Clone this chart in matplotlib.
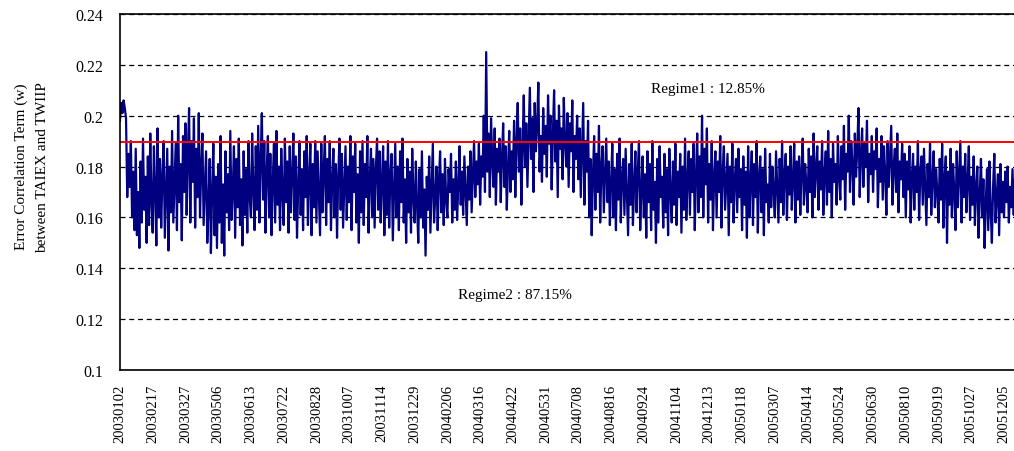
import numpy as np
import matplotlib
matplotlib.use("Agg")
import matplotlib.pyplot as plt

plt.rcParams['font.family'] = ['Liberation Serif', 'DejaVu Serif']

# tick labels (one every 27 trading days)
dates = ['20030102', '20030217', '20030327', '20030506', '20030613', '20030722',
         '20030828', '20031007', '20031114', '20031229', '20040206', '20040316',
         '20040422', '20040531', '20040708', '20040816', '20040924', '20041104',
         '20041213', '20050118', '20050307', '20050414', '20050524', '20050630',
         '20050810', '20050919', '20051027', '20051205']

# error correlation term, in thousandths
w_2003 = [198, 205, 201, 206, 203, 199, 168, 185, 172, 190, 160, 178, 155, 187, 153, 170, 148, 182, 158, 191, 163, 176, 150, 184, 157, 193, 166,
          154, 188, 171, 149, 195, 160, 183, 156, 176, 190, 152, 169, 187, 147, 180, 162, 194, 158, 173, 189, 155, 200, 166, 181, 151, 192, 170,
          197, 161, 185, 203, 158, 190, 174, 199, 156, 187, 168, 201, 160, 179, 193, 157, 172, 186, 150, 165, 183, 146, 170, 189, 153, 176, 148,
          181, 158, 192, 150, 173, 145, 186, 162, 177, 155, 194, 159, 170, 188, 152, 183, 164, 191, 157, 175, 149, 186, 161, 179, 154, 190, 168,
          160, 193, 171, 155, 188, 163, 196, 158, 182, 201, 167, 190, 154, 178, 192, 160, 185, 153, 174, 189, 158, 194, 165, 180, 155, 187, 170,
          157, 191, 166, 182, 154, 188, 162, 176, 193, 159, 184, 152, 172, 190, 161, 179, 155, 186, 168, 192, 157, 175, 189, 153, 181, 164, 190,
          158, 186, 170, 153, 189, 162, 178, 192, 157, 183, 166, 190, 155, 174, 187, 160, 181, 152, 176, 191, 163, 185, 156, 172, 188, 159, 180,
          166, 192, 155, 184, 170, 189, 158, 177, 150, 186, 162, 190, 157, 181, 168, 192, 154, 175, 187, 160, 183, 156, 179, 191, 163, 186, 158,
          174, 188, 153, 182, 161, 190, 156, 177, 185, 151, 170, 189, 160, 180, 155, 186, 166, 191, 158, 175, 150, 183, 162, 178, 154, 187, 168]
w_2004 = [158, 182, 165, 150, 179, 160, 186, 156, 171, 145, 176, 163, 184, 154, 172, 189, 158, 168, 180, 155, 174, 186, 162, 177, 157, 183, 167,
          160, 179, 170, 185, 158, 175, 163, 182, 159, 172, 188, 165, 178, 161, 184, 170, 157, 180, 167, 186, 162, 176, 190, 168, 182, 173, 189,
          165, 184, 176, 200, 170, 225, 178, 193, 168, 199, 182, 172, 195, 165, 187, 178, 191, 166, 183, 197, 172, 188, 163, 180, 194, 170, 186,
          175, 198, 168, 190, 205, 178, 195, 165, 188, 208, 180, 197, 172, 191, 211, 183, 199, 170, 205, 186, 196, 213, 178, 192, 174, 203, 185,
          196, 176, 208, 189, 200, 171, 193, 210, 182, 198, 168, 204, 187, 195, 175, 207, 190, 180, 201, 172, 197, 186, 206, 170, 192, 183, 200,
          175, 195, 168, 186, 205, 165, 190, 178, 198, 160, 183, 153, 176, 192, 163, 185, 170, 196, 158, 180, 188, 162, 177, 191, 166, 182, 157,
          174, 189, 160, 179, 155, 185, 167, 191, 158, 176, 183, 161, 187, 170, 153, 181, 165, 189, 157, 173, 186, 162, 178, 190, 155, 171, 184,
          160, 177, 152, 186, 166, 181, 155, 190, 163, 174, 150, 183, 158, 188, 168, 176, 156, 185, 162, 179, 153, 187, 170, 158, 182, 165, 189,
          157, 178, 168, 185, 154, 180, 163, 191, 159, 175, 186, 161, 183, 170, 189, 155, 176, 193, 162, 184, 168, 200, 160, 187, 173, 195, 158,
          181, 167, 190, 155, 176, 186, 160, 182, 170, 192, 156, 178, 188, 163, 174, 185, 153, 180, 166, 189, 158, 175, 183, 162, 187, 168, 179]
w_2005 = [155, 184, 165, 178, 152, 188, 160, 174, 186, 157, 181, 168, 190, 154, 176, 184, 162, 179, 153, 187, 166, 173, 158, 185, 164, 180, 171,
          160, 186, 172, 158, 183, 166, 190, 161, 177, 185, 159, 180, 169, 188, 163, 175, 189, 158, 182, 167, 184, 161, 178, 191, 165, 181, 173,
          162, 187, 170, 184, 160, 193, 168, 179, 188, 163, 182, 171, 190, 161, 177, 186, 165, 194, 170, 183, 160, 189, 174, 181, 165, 192, 176,
          167, 188, 175, 196, 163, 185, 178, 200, 170, 190, 181, 165, 193, 176, 187, 203, 168, 184, 195, 172, 189, 180, 198, 166, 185, 177, 192,
          170, 186, 179, 195, 164, 183, 174, 192, 167, 188, 178, 161, 190, 172, 184, 196, 165, 180, 187, 170, 193, 162, 182, 175, 189, 168, 185,
          160, 182, 171, 188, 158, 176, 185, 163, 180, 170, 190, 159, 178, 184, 165, 187, 172, 157, 181, 168, 189, 161, 175, 186, 164, 179, 170,
          158, 183, 167, 189, 156, 175, 184, 150, 178, 165, 187, 160, 181, 170, 155, 186, 164, 177, 190, 158, 180, 168, 185, 162, 174, 188, 159,
          176, 165, 184, 157, 172, 180, 152, 169, 183, 160, 175, 148, 166, 179, 155, 182, 163, 150, 172, 185, 158, 168, 177, 153, 181, 162, 174,
          160, 178, 166, 180, 158, 172, 164, 179, 161, 175, 168, 181]

threshold = 0.1895
regime1 = 'Regime1 : 12.85%'
regime2 = 'Regime2 : 87.15%'

w = np.array(w_2003 + w_2004 + w_2005) / 1000.0
x = np.arange(len(w))
step = 27

fig = plt.figure(figsize=(10.14, 4.52), dpi=100)
ax = fig.add_axes([0.1183, 0.179, 0.885, 0.788])

ax.plot(x, w, color='#000080', lw=1.6)
ax.axhline(threshold, color='#ff0000', lw=1.4)

ax.set_ylim(0.1, 0.24)
ax.set_xlim(0, len(w) - 1)
ax.set_yticks([0.1, 0.12, 0.14, 0.16, 0.18, 0.2, 0.22, 0.24])
ax.set_yticklabels(['0.1', '0.12', '0.14', '0.16', '0.18', '0.2', '0.22', '0.24'], fontsize=11.5)
ax.set_xticks(np.arange(len(dates)) * step)
ax.set_xticklabels(dates, rotation=90, fontsize=10.5)
ax.tick_params(length=0, pad=10)
ax.tick_params(axis='y', pad=12)

ax.grid(axis='y', color='black', ls=(0, (4, 3)), lw=0.9)
ax.set_axisbelow(True)
ax.spines['right'].set_visible(False)
for s in ['left', 'top', 'bottom']:
    ax.spines[s].set_linewidth(1.2)

ax.text(438, 0.2105, regime1, fontsize=11, va='center')
ax.text(279, 0.1299, regime2, fontsize=11, va='center')

fig.text(0.021, 0.63, 'Error Correlation Term (w)', rotation=90, ha='center', va='center', fontsize=11)
fig.text(0.042, 0.63, 'between TAIEX and TWIIP', rotation=90, ha='center', va='center', fontsize=11)

fig.savefig('out.png', dpi=100)
